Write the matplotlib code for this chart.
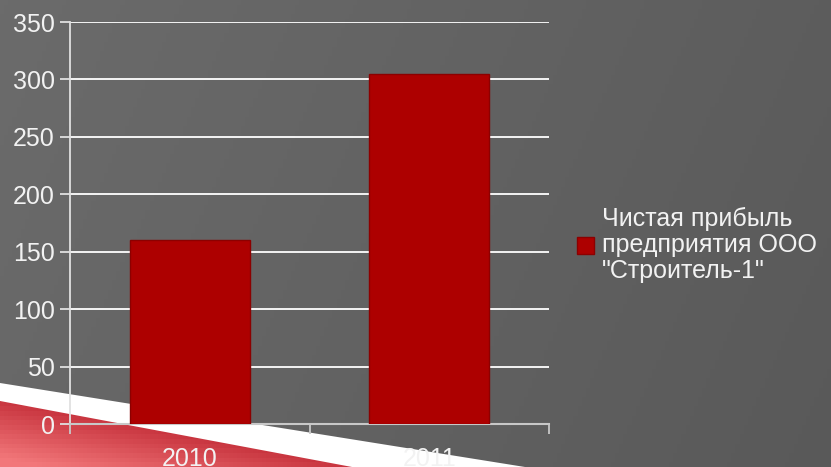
import matplotlib
matplotlib.use("Agg")
import matplotlib.pyplot as plt
import numpy as np
from matplotlib.patches import Polygon

plt.rcParams["font.family"] = ["Liberation Sans", "DejaVu Sans"]

years = ["2010", "2011"]
profit = [160, 305]
series_label = 'Чистая прибыль\nпредприятия ООО\n"Строитель-1"'
y_ticks = [0, 50, 100, 150, 200, 250, 300, 350]

W, H = 831, 467
PT = 72 / 100  # points per pixel
fig = plt.figure(figsize=(W / 100, H / 100), dpi=100)

# background: grey gradient + decorative stripes at bottom left
bg = fig.add_axes([0, 0, 1, 1], zorder=0)
bg.set_xlim(0, W)
bg.set_ylim(H, 0)
bg.axis("off")
xx, yy = np.meshgrid(np.linspace(0, 1, 200), np.linspace(0, 1, 100))
shade = 0.42 - 0.07 * (0.8 * xx + 0.2 * yy)
bg.imshow(np.dstack([shade, shade, shade]), extent=(0, W, H, 0), aspect="auto",
          zorder=0)

white_band = Polygon([(0, 383), (525, 467), (0, 467)], closed=True,
                     facecolor="white", edgecolor="none", zorder=1)
bg.add_patch(white_band)

red_poly = Polygon([(0, 401), (352, 467), (0, 467)], closed=True,
                   facecolor="none", edgecolor="none")
bg.add_patch(red_poly)
# red gradient, lighter away from the upper edge
d = (yy * H - (401 + xx * W * 66 / 352)) / 60.0
d = np.clip(d, 0, 1)
r = 0.78 + 0.17 * d
g = 0.20 + 0.27 * d
b = 0.24 + 0.24 * d
red_img = bg.imshow(np.dstack([r, g, b]), extent=(0, W, H, 0), aspect="auto",
                    zorder=2)
red_img.set_clip_path(red_poly)

# chart
ax = fig.add_axes([70 / W, (H - 424) / H, (549 - 70) / W, (424 - 22) / H], zorder=1)
ax.patch.set_alpha(0)
x = np.arange(len(years))
ax.bar(x, profit, width=0.5, color="#ad0000", edgecolor="#8c0000",
       linewidth=1, zorder=3, label=series_label)
ax.set_xlim(-0.5, len(years) - 0.5)
ax.set_ylim(0, 350)
ax.set_yticks(y_ticks)
ax.yaxis.grid(True, color="white", linewidth=1.3, zorder=1)
ax.set_axisbelow(True)

ax.set_xticks([-0.5, 0.5, 1.5])
ax.set_xticklabels([])
ax.set_xticks(x, minor=True)
ax.set_xticklabels(years, minor=True)
ax.tick_params(axis="x", which="major", length=10 * PT, color="#c8c8c8", width=1.3)
ax.tick_params(axis="x", which="minor", length=0, pad=23 * PT, labelsize=18,
               labelcolor="#f2f2f2")
ax.tick_params(axis="y", length=10 * PT, color="#e0e0e0", width=1.3, pad=5 * PT,
               labelsize=18, labelcolor="#f2f2f2")

for side in ("top", "right"):
    ax.spines[side].set_visible(False)
ax.spines["left"].set_color("#e0e0e0")
ax.spines["left"].set_linewidth(1.3)
ax.spines["bottom"].set_color("#c8c8c8")
ax.spines["bottom"].set_linewidth(1.5)

leg = fig.legend(loc="center left", bbox_to_anchor=(577 / W, (H - 245) / H),
                 frameon=False, fontsize=18, handlelength=0.68, handleheight=0.68,
                 handletextpad=0.3, borderpad=0, borderaxespad=0)
for t in leg.get_texts():
    t.set_color("#f2f2f2")
    t.set_linespacing(1.1)

fig.savefig("out.png", dpi=100)
